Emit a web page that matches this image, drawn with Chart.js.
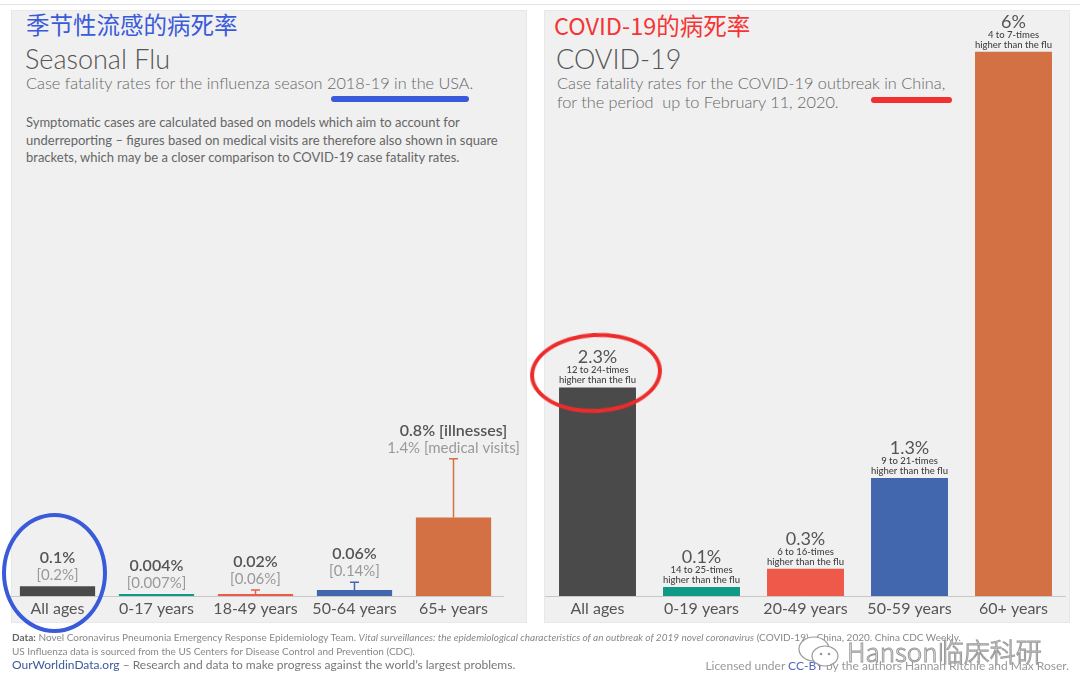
<!DOCTYPE html>
<html>
<head>
<meta charset="utf-8">
<script src="https://cdn.jsdelivr.net/npm/chart.js@4.4.1/dist/chart.umd.min.js"></script>
<style>
  html, body { margin: 0; padding: 0; background: #fff; }
  #page { position: relative; width: 1080px; height: 696px; overflow: hidden; font-family: Lato, 'Noto Sans', sans-serif; }
  .topline { position: absolute; left: 0; top: 4px; width: 1080px; height: 1px; background: #e4e4e4; }
  .panel { position: absolute; top: 10px; height: 613px; background: #f0f0f0; border: 1px solid #e8e8e8; box-sizing: border-box; }
  #panelL { left: 11px; width: 516px; }
  #panelR { left: 544px; width: 526px; }
  .abs { position: absolute; white-space: nowrap; }
  .cn { font-family: 'Noto Sans CJK SC', sans-serif; font-size: 23.5px; line-height: 23.5px; }
  .title { font-weight: 300; font-size: 27px; line-height: 27px; color: #555; }
  .sub { font-weight: 300; font-size: 16.3px; line-height: 18.5px; color: #666; }
  .note { font-size: 13px; line-height: 17.5px; color: #666; }
  .uline { position: absolute; height: 6px; border-radius: 3px; }
  .ring { position: absolute; border-radius: 50%; box-sizing: border-box; }
  canvas { position: absolute; left: 0; top: 0; }
  .foot { font-size: 10px; line-height: 12px; color: #888; }
  .foot2 { font-size: 12px; line-height: 14px; color: #777; }
  .wm { font-family: 'Noto Sans CJK SC', sans-serif; font-weight: 300; font-size: 26px; line-height: 26px; color: #fff; -webkit-text-stroke: 1px #9a9a9a; }
</style>
</head>
<body>
<div id="page">
  <div class="topline"></div>
  <div class="panel" id="panelL"></div>
  <div class="panel" id="panelR"></div>

  <div class="abs cn" style="left:26px; top:13px; color:#3a5bd9;">季节性流感的病死率</div>
  <div class="abs title" style="left:25px; top:45px;">Seasonal Flu</div>
  <div class="abs sub" style="left:26px; top:74px;">Case fatality rates for the influenza season 2018-19 in the USA.</div>
  <div class="uline" style="left:331px; top:96px; width:138px; background:#3a5bd9;"></div>
  <div class="abs note" style="left:26px; top:114px;">Symptomatic cases are calculated based on models which aim to account for<br>underreporting – figures based on medical visits are therefore also shown in square<br>brackets, which may be a closer comparison to COVID-19 case fatality rates.</div>

  <div class="abs cn" style="left:554px; top:14px; color:#f53535;">COVID-19的病死率</div>
  <div class="abs title" style="left:556px; top:45px;">COVID-19</div>
  <div class="abs sub" style="left:557px; top:74px;">Case fatality rates for the COVID-19 outbreak in China,<br>for the period&nbsp; up to February 11, 2020.</div>
  <div class="uline" style="left:871px; top:97px; width:81px; background:#f23030;"></div>

  <canvas id="flu-chart" width="1080" height="696"></canvas>
  <canvas id="covid-chart" width="1080" height="696"></canvas>

  <div class="ring" style="left:2px; top:513px; width:105px; height:120px; border:4px solid #3a5bd9;"></div>
  <div class="ring" style="left:530px; top:333px; width:132px; height:80px; border:4px solid #ee2b2b; transform:rotate(-3deg);"></div>

  <div class="abs foot" style="left:12px; top:631px;"><b style="color:#666">Data:</b> Novel Coronavirus Pneumonia Emergency Response Epidemiology Team. <i>Vital surveillances: the epidemiological characteristics of an outbreak of 2019 novel coronavirus</i> (COVID-19)—China, 2020. China CDC Weekly.</div>
  <div class="abs foot" style="left:12px; top:645px;">US Influenza data is sourced from the US Centers for Disease Control and Prevention (CDC).</div>
  <div class="abs foot2" style="left:12px; top:658px;"><span style="color:#3c5a99">OurWorldinData.org</span> – Research and data to make progress against the world’s largest problems.</div>
  <div class="abs foot2" style="right:11px; top:659px; color:#999;">Licensed under <span style="color:#5468b8">CC-BY</span> by the authors Hannah Ritchie and Max Roser.</div>

  <svg class="abs" style="left:797px; top:634px;" width="46" height="36" viewBox="0 0 46 36">
    <ellipse cx="17" cy="15" rx="15" ry="12" fill="#fff" stroke="#9a9a9a" stroke-width="1.2"/>
    <ellipse cx="28" cy="22" rx="13" ry="10" fill="#fff" stroke="#9a9a9a" stroke-width="1.2"/>
    <circle cx="24" cy="20" r="1.3" fill="#9a9a9a"/>
    <circle cx="32" cy="20" r="1.3" fill="#9a9a9a"/>
  </svg>
  <div class="abs wm" style="left:847px; top:638px;">Hanson临床科研</div>
</div>

<script>
// seasonal flu, US 2018-19
const fluAges = ['All ages', '0-17 years', '18-49 years', '50-64 years', '65+ years'];
const fluIllness = [0.1, 0.004, 0.02, 0.06, 0.8];
const fluMedical = [0.2, 0.007, 0.06, 0.14, 1.4];
const fluErrorShown = [false, true, true, true, true];
const fluTopLabels = ['0.1%', '0.004%', '0.02%', '0.06%', '0.8% [illnesses]'];
const fluSubLabels = ['[0.2%]', '[0.007%]', '[0.06%]', '[0.14%]', '1.4% [medical visits]'];

// COVID-19, China to Feb 11 2020
const covidAges = ['All ages', '0-19 years', '20-49 years', '50-59 years', '60+ years'];
const covidRates = [2.3, 0.1, 0.3, 1.3, 6];
const covidTopLabels = ['2.3%', '0.1%', '0.3%', '1.3%', '6%'];
const covidTimes = ['12 to 24-times', '14 to 25-times', '6 to 16-times', '9 to 21-times', '4 to 7-times'];

const barColors = ['#4a4a4a', '#0e9a84', '#ef594a', '#4267ae', '#d37044'];

const BASE_Y = 596;
const AXIS_H = 16 * 1.2 + 2 * 3;

Chart.defaults.font.family = 'Lato';
Chart.defaults.animation = false;

const makeOptions = (left, right, maxVal, pxPerUnit) => ({
  responsive: false,
  animation: false,
  layout: {
    padding: {
      left,
      right: 1080 - right,
      top: BASE_Y - maxVal * pxPerUnit,
      bottom: 696 - BASE_Y - AXIS_H,
    },
  },
  plugins: { legend: { display: false }, tooltip: { enabled: false } },
  scales: {
    y: { display: false, min: 0, max: maxVal },
    x: {
      grid: { display: false, drawTicks: false },
      border: { display: true, color: '#c8c8c8', width: 1 },
      ticks: {
        color: '#555',
        padding: 3,
        maxRotation: 0,
        autoSkip: false,
        font: { family: 'Lato', size: 16 },
      },
    },
  },
});

const fluMarks = {
  id: 'fluMarks',
  afterDatasetsDraw(chart) {
    const { ctx } = chart;
    const yScale = chart.scales.y;
    ctx.save();
    ctx.textAlign = 'center';
    ctx.textBaseline = 'middle';
    chart.getDatasetMeta(0).data.forEach((bar, i) => {
      let anchor = bar.y;
      if (fluErrorShown[i]) {
        const yTop = yScale.getPixelForValue(fluMedical[i]);
        ctx.strokeStyle = barColors[i];
        ctx.lineWidth = 1.5;
        ctx.beginPath();
        ctx.moveTo(bar.x, bar.y);
        ctx.lineTo(bar.x, yTop);
        ctx.moveTo(bar.x - 4.5, yTop);
        ctx.lineTo(bar.x + 4.5, yTop);
        ctx.stroke();
        anchor = Math.min(anchor, yTop);
      }
      ctx.font = '600 16px Lato';
      ctx.fillStyle = '#555';
      ctx.fillText(fluTopLabels[i], bar.x, anchor - 28);
      ctx.font = '15px Lato';
      ctx.fillStyle = '#999';
      ctx.fillText(fluSubLabels[i], bar.x, anchor - 11);
    });
    ctx.restore();
  },
};

const covidMarks = {
  id: 'covidMarks',
  afterDatasetsDraw(chart) {
    const { ctx } = chart;
    ctx.save();
    ctx.textAlign = 'center';
    ctx.textBaseline = 'middle';
    chart.getDatasetMeta(0).data.forEach((bar, i) => {
      ctx.font = '18px Lato';
      ctx.fillStyle = '#555';
      ctx.fillText(covidTopLabels[i], bar.x, bar.y - 30);
      ctx.font = '500 9.5px Lato';
      ctx.fillStyle = '#444';
      ctx.fillText(covidTimes[i], bar.x, bar.y - 17);
      ctx.fillText('higher than the flu', bar.x, bar.y - 7);
    });
    ctx.restore();
  },
};

const fluChart = new Chart(document.getElementById('flu-chart').getContext('2d'), {
  type: 'bar',
  data: {
    labels: fluAges,
    datasets: [
      {
        data: fluIllness,
        backgroundColor: barColors,
        categoryPercentage: 1,
        barPercentage: 0.76,
        minBarLength: 2,
      },
    ],
  },
  options: makeOptions(8, 503, 5, 98),
  plugins: [fluMarks],
});

const covidChart = new Chart(document.getElementById('covid-chart').getContext('2d'), {
  type: 'bar',
  data: {
    labels: covidAges,
    datasets: [
      {
        data: covidRates,
        backgroundColor: barColors,
        categoryPercentage: 1,
        barPercentage: 0.74,
      },
    ],
  },
  options: makeOptions(545.5, 1065.5, 6.4, 90.7),
  plugins: [covidMarks],
});
</script>
</body>
</html>
